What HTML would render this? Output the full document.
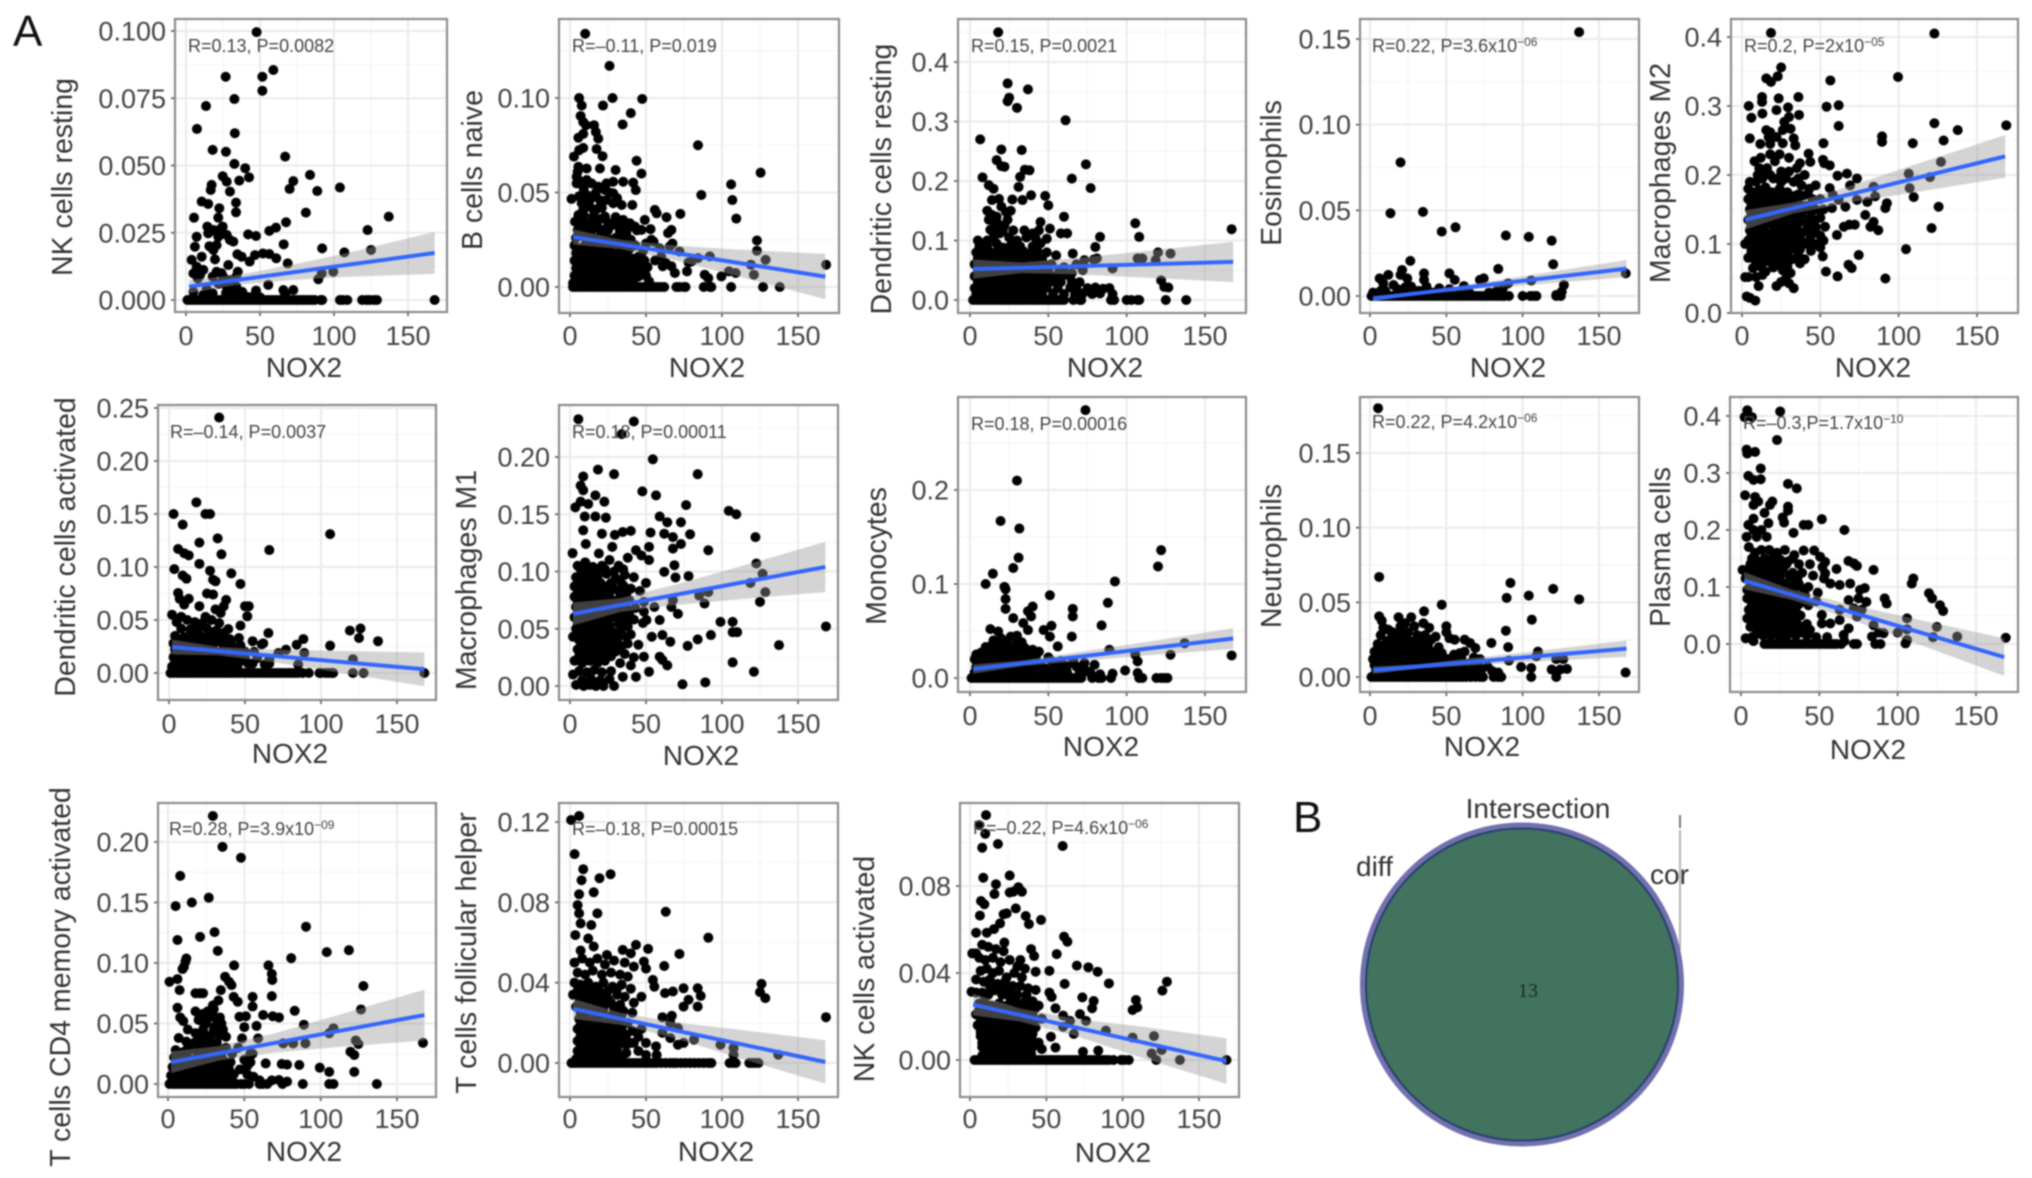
<!DOCTYPE html>
<html lang="en">
<head>
<meta charset="utf-8">
<title>NOX2 immune cell correlation scatter panels and Venn diagram</title>
<style>
html,body{margin:0;padding:0;background:#fff;width:2032px;height:1178px;overflow:hidden}
svg{display:block;filter:blur(.75px);font-family:"Liberation Sans",Arial,sans-serif}
</style>
</head>
<body>
<svg id="figure" xmlns="http://www.w3.org/2000/svg" width="2032" height="1178" viewBox="0 0 2032 1178">
<rect width="2032" height="1178" fill="#fff"/>
<text x="13" y="46" font-size="44" fill="#111">A</text>
<text x="1293" y="832" font-size="44" fill="#111">B</text>
<g>
<line x1="1680" y1="830" x2="1680" y2="950" stroke="#b5b5b5" stroke-width="2"/>
<line x1="1680" y1="815" x2="1680" y2="828" stroke="#777" stroke-width="2"/>
<circle cx="1522" cy="984.5" r="159.5" fill="#41735f" stroke="#7270ae" stroke-width="5"/>
<circle cx="1522" cy="984.5" r="156" fill="#41735f" stroke="#27406e" stroke-width="2"/>
<text x="1528" y="997" font-size="20" text-anchor="middle" fill="#1c2a25" font-family="'Liberation Serif',serif">13</text>
<text x="1538" y="818" font-size="28" text-anchor="middle" fill="#333">Intersection</text>
<text x="1356" y="876" font-size="28" fill="#333">diff</text>
<text x="1650" y="884" font-size="28" fill="#333">cor</text>
</g>
</svg>
<script>
const xTicks=[0,50,100,150];
const ciX=[2,33,70,110,168];
const fitX=[2,168];

const nkRestingPoints=[[47.7,.0996],[51.6,.083],[59,.0855],[51.6,.0778],[26.8,.083],[32.7,.0747],[13.5,.0721],[7.4,.0636],[33,.062],[18,.0558],[27,.0551],[67,.0533],[32.7,.0506],[40,.049],[24.8,.046],[42.6,.0456],[36,.0444],[27.5,.044],[17.3,.0428],[16.7,.0409],[29.7,.0403],[83.8,.0465],[72.5,.0442],[70,.0413],[88.7,.0405],[104,.0418],[10.6,.0366],[15,.0357],[33.8,.0362],[22.5,.0341],[33.8,.0326],[81,.0325],[5.4,.0306],[21.8,.0306],[137,.031],[67.6,.0289],[122.7,.026],[60.8,.0269],[56.3,.0257],[14.4,.0273],[16,.0254],[18.5,.026],[23,.0263],[24.8,.0273],[15,.0248],[21.8,.0235],[27.5,.0242],[29.7,.0223],[32,.0217],[42,.0244],[47.3,.0238],[7.2,.0235],[6,.0198],[15.8,.02],[20.7,.0204],[18.5,.0186],[66,.0207],[92,.0192],[107,.0177],[125,.0186],[34.7,.017],[37.6,.0161],[46.6,.0167],[52,.0173],[56.3,.0171],[61,.0155],[43,.0143],[10.6,.0161],[19.6,.0151],[68.7,.0136],[3.8,.0149],[7.2,.0124],[11.7,.0112],[28.6,.013],[20.7,.0105],[35,.0105],[5,.0099],[91.7,.0099],[99.5,.0105],[89.4,.0077],[25,.0087],[34,.0087],[18,.0087],[9.5,.0093],[29.7,.0074],[55.6,.0056],[27.5,.005],[34,.005],[65.8,.0037],[72.5,.0037],[47.3,.0035],[11.7,.0019],[18,.0025],[27,.0026],[36.5,.0025],[41,.0012],[67,.002],[5,.003],[14,.004],[22,.006],[31,.003],[38,.003],[8,.008],[24,.01],[44,.001],[50,.001]];
const nkRestingZero=[1,3,5,7,9,11,13,15,17,19,21,23,25,27,29,31,33,35,37,39,41,43,45,47,49,51,53,55,57,59,61,63,65,67,69,71,73,75,77,79,81,83,85,87,91,92,104,106,109,119,122,124,127,129,168];
const nkRestingFit=[.005,.0175];
const nkRestingCi=[.0025,.0018,.0028,.0045,.0078];
const nkRestingTicks=['0.000','0.025','0.050','0.075','0.100'];

const bNaivePoints=[[10,.134],[26,.117],[6,.1],[28,.1],[47.5,.0995],[21.7,.096],[7.7,.096],[40,.092],[34.6,.086],[7,.0905],[8.7,.0873],[15.8,.0856],[10.5,.0856],[17,.082],[8.7,.081],[5.5,.079],[18.6,.0785],[17.5,.073],[8.7,.0736],[6,.0724],[2.6,.069],[21.4,.0692],[43.8,.0668],[5.5,.0636],[11,.0627],[19.7,.0627],[30,.0619],[5,.061],[47,.06],[84.2,.075],[125.4,.0605],[106,.0543],[86.4,.0487],[106.8,.046],[109.4,.0362],[4.4,.0583],[7.7,.0557],[4.4,.0548],[11,.0566],[14.2,.0548],[18.6,.0531],[24,.0548],[28.4,.0557],[35,.0557],[41.6,.0552],[43.3,.0513],[23,.0513],[28.4,.0496],[1,.0466],[11,.0487],[15.3,.0478],[19.7,.046],[24,.046],[28.4,.0443],[34,.0434],[41,.0434],[7.7,.0443],[13,.0425],[18.6,.0416],[55.8,.0408],[57,.039],[72.6,.0387],[63.5,.0369],[49.2,.0355],[8.7,.0408],[5.5,.0381],[15.3,.0373],[23,.0373],[3.3,.0346],[11,.0337],[17.5,.0329],[35,.0355],[39.4,.0337],[28.4,.0329],[42.7,.032],[47,.0302],[53,.0306],[66.7,.0302],[64.5,.0285],[8.7,.0302],[21.9,.0302],[32.8,.0294],[37,.0285],[4,.026],[8,.027],[13,.028],[18,.026],[24,.025],[30,.026],[36,.024],[43,.022],[50,.023],[55,.024],[53.6,.025],[3,.022],[9,.0215],[13,.022],[17,.0225],[22,.021],[27,.022],[33,.021],[39,.02],[48,.019],[4,.018],[7,.0175],[11,.018],[15,.0185],[20,.018],[24,.0175],[28,.018],[33,.0185],[37,.017],[45,.016],[3,.014],[6,.0145],[10,.014],[14,.013],[18,.0145],[22,.0135],[26,.014],[30,.013],[34,.0145],[38,.014],[44,.0135],[49,.014],[4,.01],[8,.0105],[12,.0095],[16,.0105],[19,.01],[23,.0095],[27,.0105],[31,.01],[35,.0095],[39,.0105],[43,.01],[47,.0095],[51,.0105],[3,.006],[7,.0065],[10,.0055],[14,.0065],[17,.006],[21,.0055],[25,.0065],[29,.006],[33,.0055],[37,.0065],[41,.006],[45,.0055],[50,.006],[2,.002],[5,.004],[8,.003],[11,.005],[14,.003],[18,.004],[22,.002],[26,.004],[30,.003],[34,.004],[38,.003],[42,.004],[52,.003],[63,.0127],[66.7,.011],[69,.0074],[61,.011],[59,.0205],[65.6,.0214],[67.4,.023],[72,.0188],[80,.0135],[77,.0083],[84.2,.0153],[92,.0162],[88.6,.0065],[91,.0047],[99.6,.0056],[104.6,.0083],[109,.0074],[119,.0118],[121,.0065],[123,.0246],[123,.0192],[128.7,.0144],[168.5,.0118],[78,.013],[56,.014],[60,.016]];
const bNaiveExtra=[[6,.048],[9,.052],[13,.046],[17,.05],[21,.042],[26,.05],[31,.047],[9,.038],[12,.034],[16,.04],[20,.036],[25,.034],[30,.037],[6,.034],[14,.03],[19,.031],[25,.03],[33,.033],[38,.031],[44,.03],[5,.03],[11,.024],[16,.023],[21,.026],[27,.025],[33,.026],[40,.025],[5,.02],[12,.016],[18,.016],[26,.017],[31,.016],[41,.015],[6,.012],[16,.012],[24,.012],[29,.011],[36,.011],[41,.012],[46,.012]];
const bNaiveZero=[2,4,6,8,10,12,14,16,18,20,22,24,26,28,30,32,34,36,38,40,42,44,46,48,50,52,54,56,58,60,62,70,72,75,76,88,92,93,106,127,138];
const bNaiveFit=[.0265,.0055];
const bNaiveCi=[.004,.0025,.004,.007,.012];
const bNaiveTicks=['0.00','0.05','0.10'];

const dcRestingPoints=[[18,.45],[24,.364],[37,.354],[25,.34],[24,.334],[30,.323],[61,.302],[6.5,.27],[20,.253],[33,.252],[17,.235],[74,.228],[20,.225],[22,.224],[35,.219],[38,.218],[8,.206],[65,.204],[32,.207],[12,.193],[15,.187],[31,.19],[77,.188],[39,.176],[48,.175],[50,.159],[14,.168],[18.5,.17],[27,.169],[33.5,.168],[60,.14],[105.5,.129],[167,.119],[108,.106],[83,.106],[45,.131],[80,.089],[11,.15],[12,.135],[20,.157],[26,.15],[24,.135],[22,.125],[16,.127],[13,.118],[19,.112],[5,.1],[11,.1],[27.6,.117],[34.7,.117],[44,.117],[51,.12],[58,.112],[62,.112],[73,.067],[79,.068],[81,.07],[107,.07],[110,.07],[120,.08],[128,.078],[118.5,.067],[91,.053],[122,.033],[124,.022],[126.6,.021],[65.6,.078],[55,.075],[6,.09],[11,.091],[17,.095],[21,.088],[26,.092],[32,.09],[40,.09],[45,.095],[49,.103],[4,.08],[8,.079],[12,.082],[16,.08],[19,.078],[23,.081],[28,.08],[34,.082],[38,.078],[43,.083],[49,.08],[5,.07],[9,.069],[13,.072],[17,.07],[22,.068],[26,.071],[31,.07],[36,.069],[41,.072],[46,.07],[3,.06],[7,.061],[11,.059],[15,.06],[20,.062],[24,.058],[29,.06],[33,.061],[37,.059],[42,.06],[47,.061],[52,.06],[5,.05],[9,.051],[14,.049],[18,.05],[22,.052],[27,.049],[31,.05],[35,.051],[40,.049],[45,.05],[50,.05],[57,.051],[3,.04],[7,.041],[11,.039],[16,.04],[20,.042],[25,.039],[29,.04],[34,.041],[38,.039],[43,.04],[48,.041],[54,.04],[62,.042],[5,.03],[9,.031],[13,.029],[18,.03],[23,.032],[27,.029],[32,.03],[36,.031],[41,.029],[47,.03],[52,.031],[58,.03],[65,.031],[70,.03],[3,.02],[7,.021],[12,.019],[16,.02],[21,.022],[25,.019],[30,.02],[35,.021],[39,.019],[44,.02],[49,.021],[56,.02],[64,.021],[68,.019],[75,.02],[80,.021],[85,.019],[89,.02],[4,.01],[8,.011],[13,.009],[17,.01],[22,.012],[27,.009],[31,.01],[37,.011],[42,.009],[46,.01],[53,.011],[60,.01],[67,.009],[72,.011],[78,.01],[83,.011],[91,.01],[68,.06],[72,.05],[60,.055],[57,.045],[65,.045]];
const dcRestingExtra=[[15,.105],[18,.128],[21,.115],[14,.143],[17,.14],[23,.148],[16,.112],[25,.105],[30,.1],[36,.105],[40,.112],[42,.103],[7,.012],[11,.025],[15,.015],[19,.035],[23,.025],[28,.015],[33,.035],[38,.025],[42,.035],[9,.045],[13,.035],[17,.055],[23,.045],[28,.035],[33,.045],[39,.055],[44,.045],[5,.045],[11,.065],[19,.065],[29,.065]];
const dcRestingZero=[2,4,6,8,10,12,14,16,18,20,22,24,26,28,30,32,34,36,38,40,42,44,46,48,50,52,54,56,58,60,66,70,71,90,92,100,103,107,108,125,138];
const dcRestingFit=[.052,.064];
const dcRestingCi=[.016,.009,.014,.022,.034];
const dcRestingTicks=['0.0','0.1','0.2','0.3','0.4'];

const eosinophilPoints=[[137,.154],[20,.078],[13.4,.0483],[34.7,.0491],[47,.0376],[56,.0401],[89,.0353],[104,.0345],[119,.0323],[120,.0185],[167.5,.0132],[26.4,.0205],[84,.0158],[21,.0152],[6.3,.0103],[12,.0123],[20,.0123],[24.4,.0103],[35.4,.0132],[35.4,.0094],[52,.0132],[55.5,.0094],[74.5,.0103],[72,.0094],[90.5,.0074],[105.6,.009],[61.5,.0058],[127,.0064],[125.6,.0025],[122,.0006],[8.7,.0074],[15.4,.0064],[27,.0055],[37,.0055],[45.4,.0045],[87,.0045],[2,.002],[4,.001],[7,.003],[10,.003],[18,.004],[23,.005],[32,.003],[41,.002],[52,.004],[59,.002],[65,.002],[78,.002],[83,.003]];
const eosinophilZero=[1,3,5,7,9,11,13,15,17,19,21,23,25,27,29,31,33,35,37,39,41,43,45,47,49,51,53,55,57,59,61,63,65,67,69,71,73,75,77,79,81,83,85,87,88,91,100,105,107,109,122,125];
const eosinophilFit=[-.0015,.016];
const eosinophilCi=[.0015,.001,.0018,.003,.005];
const eosinophilTicks=['0.00','0.05','0.10','0.15'];

const macrophageM2Points=[[18.5,.406],[122.8,.405],[25,.356],[15.5,.34],[22.8,.343],[18.5,.335],[56.4,.337],[99.6,.342],[4.3,.3],[12.8,.313],[12.8,.306],[23.4,.311],[36,.313],[22,.294],[29.4,.298],[13,.289],[36.4,.287],[6,.283],[54,.299],[61.7,.301],[30,.284],[27,.277],[61.7,.271],[31,.267],[122.8,.275],[168.7,.272],[137.7,.265],[15.5,.265],[5,.253],[17,.255],[89.4,.256],[128.7,.25],[89.4,.248],[109,.246],[52,.246],[11.7,.245],[26,.246],[18,.245],[33,.253],[34,.243],[127,.219],[106.4,.202],[120,.197],[107,.181],[109.6,.168],[125.5,.154],[121,.123],[104.7,.0925],[91.5,.05],[61,.053],[53.6,.06],[74.5,.084],[70,.065],[68,.07],[51.5,.082],[92.5,.159],[91.5,.152],[87,.12],[82,.125],[84,.132],[78.7,.142],[73.4,.164],[80,.161],[85,.169],[84,.183],[73.4,.195],[67,.202],[61,.199],[69,.185],[56,.181],[58,.171],[51.7,.222],[52.5,.217],[56,.214],[42.5,.231],[43.6,.219],[37,.217],[68.5,.128],[65,.125],[60.6,.113],[72,.128],[66,.154],[61.7,.164],[57.4,.152],[2,.1],[2,.052],[4,.052],[3,.024],[5,.022],[8.5,.018],[22,.039],[10.6,.039],[30,.043],[33,.036],[8,.22],[11,.21],[16,.21],[21,.22],[25,.205],[30,.225],[35,.21],[40,.2],[47,.185],[5,.19],[9,.19],[13,.195],[18,.2],[23,.195],[28,.195],[33,.19],[38,.185],[43,.18],[50,.165],[4,.18],[7,.175],[11,.178],[15,.182],[19,.175],[24,.18],[29,.175],[34,.17],[39,.17],[45,.165],[4,.165],[8,.16],[12,.163],[16,.165],[21,.16],[26,.165],[31,.158],[36,.16],[41,.155],[47,.15],[52,.15],[5,.15],[9,.148],[13,.15],[18,.145],[23,.148],[28,.15],[33,.143],[38,.145],[44,.14],[50,.138],[4,.135],[8,.133],[12,.136],[16,.13],[21,.135],[26,.132],[31,.135],[36,.13],[42,.128],[47,.125],[53,.125],[5,.12],[9,.118],[14,.122],[18,.115],[23,.12],[28,.118],[33,.122],[38,.115],[44,.112],[50,.112],[4,.105],[7,.103],[11,.107],[15,.1],[20,.105],[25,.102],[30,.105],[35,.1],[41,.1],[47,.1],[52,.105],[6,.09],[10,.092],[14,.088],[19,.092],[24,.09],[29,.088],[34,.092],[40,.078],[4,.08],[8,.078],[12,.082],[17,.075],[22,.08],[27,.075],[32,.078],[37,.072],[7,.065],[11,.068],[15,.06],[20,.066],[26,.062],[31,.058],[9,.052],[13,.055],[28,.05],[25,.045]];
const macrophageM2Extra=[[6,.172],[10,.168],[14,.172],[17,.17],[22,.172],[26,.172],[31,.168],[36,.172],[42,.172],[6,.157],[10,.155],[14,.157],[19,.153],[24,.157],[29,.158],[34,.152],[39,.152],[43,.15],[6,.142],[10,.14],[14,.143],[19,.14],[24,.14],[29,.141],[34,.137],[40,.135],[46,.133],[6,.127],[11,.125],[15,.128],[20,.127],[25,.125],[30,.127],[35,.122],[41,.12],[47,.118],[6,.112],[12,.112],[16,.11],[21,.113],[26,.11],[32,.112],[37,.108],[43,.105],[9,.098],[13,.097],[17,.097],[22,.098],[27,.096],[32,.097],[37,.092],[44,.09],[50,.095],[7,.085],[15,.083],[20,.084],[25,.082],[30,.08],[36,.082],[9,.072],[13,.072],[19,.072],[24,.07],[29,.068],[10,.2],[15,.205],[20,.195],[25,.19],[30,.205],[36,.195],[12,.225],[18,.23],[24,.23],[18,.262],[22,.255],[26,.265]];
const macrophageM2Zero=[];
const macrophageM2Fit=[.135,.227];
const macrophageM2Ci=[.014,.008,.012,.02,.031];
const macrophageM2Ticks=['0.0','0.1','0.2','0.3','0.4'];

const dcActivatedPoints=[[33,.241],[18,.161],[3,.15],[24,.15],[27,.15],[9,.14],[32,.127],[106,.131],[20,.123],[34.5,.112],[66,.116],[6,.117],[10,.113],[13,.111],[20,.103],[3.5,.098],[27,.0965],[41,.094],[9,.092],[11.5,.089],[29,.088],[30.6,.0865],[47,.084],[25,.075],[29,.074],[6,.0755],[7,.07],[13,.07],[37.6,.069],[50,.063],[52.5,.063],[10,.0645],[20,.063],[30.6,.06],[2,.055],[36,.063],[34,.0566],[51.5,.0535],[8,.053],[24,.053],[47,.0447],[39,.0415],[119,.04],[126,.042],[125,.033],[137.5,.03],[65.4,.0377],[88.4,.032],[84,.0267],[106,.0258],[61,.027],[55,.03],[62,.028],[72,.0189],[77,.022],[121,.013],[89,.019],[5,.048],[12,.05],[17,.048],[22,.047],[28,.05],[33,.047],[8,.042],[14,.041],[19,.04],[25,.042],[31,.04],[36,.038],[4,.035],[10,.034],[16,.035],[22,.034],[27,.036],[33,.033],[40,.032],[46,.033],[3,.028],[7,.029],[12,.027],[18,.028],[23,.029],[29,.027],[35,.028],[41,.027],[47,.026],[4,.022],[9,.023],[14,.021],[19,.022],[25,.023],[30,.021],[36,.022],[43,.021],[50,.02],[56,.02],[3,.015],[7,.016],[12,.014],[17,.015],[22,.016],[27,.014],[33,.015],[38,.016],[44,.014],[50,.015],[58,.014],[66,.013],[2,.006],[5,.01],[10,.009],[15,.01],[20,.009],[25,.01],[30,.009],[35,.01],[40,.009],[46,.01],[52,.009],[63,.008],[66,.009],[85,.008],[5,.004],[11,.004],[18,.005],[24,.004],[31,.005],[38,.004],[45,.005]];
const dcActivatedExtra=[[6,.031],[13,.031],[19,.031],[25,.03],[31,.031],[38,.03],[6,.019],[11,.018],[16,.019],[22,.019],[27,.018],[33,.019],[40,.018],[47,.018],[4,.012],[9,.012],[14,.012],[19,.013],[24,.012],[29,.012],[35,.013],[42,.012],[55,.009],[8,.006],[14,.006],[21,.006],[28,.006],[34,.006],[42,.006]];
const dcActivatedZero=[1,3,5,7,9,11,13,15,17,19,21,23,25,27,29,31,33,35,37,39,41,43,45,47,49,51,53,55,57,59,61,63,65,67,69,71,73,75,77,79,81,83,85,88,92,99,100,103,105,107,108,121,128,168];
const dcActivatedFit=[.0245,.0035];
const dcActivatedCi=[.007,.004,.006,.01,.016];
const dcActivatedTicks=['0.00','0.05','0.10','0.15','0.20','0.25'];

const macrophageM1Points=[[5.5,.233],[42,.231],[34,.22],[54.5,.198],[18.4,.189],[29,.185],[84,.185],[8.7,.183],[7,.175],[8.7,.171],[47.6,.17],[56.6,.1665],[16.7,.1665],[22.6,.161],[7,.161],[12,.159],[3.5,.156],[76.4,.158],[104.5,.153],[109.4,.15],[59,.148],[64,.143],[73,.143],[9.7,.148],[16.7,.148],[23.6,.147],[8.7,.136],[34.7,.1345],[40,.1355],[53,.134],[62,.133],[79,.1325],[122,.13],[21,.133],[29.5,.132],[67.7,.13],[73,.124],[52,.1215],[91,.1186],[10.4,.124],[1.7,.116],[67.7,.12],[43.4,.1186],[47,.114],[52,.11],[19,.1157],[27.8,.1215],[68.7,.1055],[122.6,.107],[62,.0997],[126.7,.098],[69.4,.0948],[78,.096],[118.7,.09],[128.5,.082],[91,.082],[85,.079],[88.5,.072],[125,.0735],[67.7,.075],[66.7,.069],[71,.063],[48.6,.0735],[55.5,.069],[48.6,.065],[99,.056],[107,.056],[168.4,.052],[107,.047],[110,.047],[92.7,.0445],[84,.0407],[77.4,.035],[137.5,.0357],[107,.0206],[121,.0125],[89,.0032],[74,.0015],[64,.018],[59,.0256],[60.8,.0227],[66,.0387],[60.8,.0445],[53.8,.043],[50.3,.0576],[59,.0576],[52,.0125],[43.4,.008],[48.6,.0256],[34.7,.008],[29,0],[5,.105],[10,.108],[15,.104],[21,.105],[26,.11],[32,.105],[38,.112],[4,.095],[8,.098],[13,.096],[18,.095],[24,.098],[30,.094],[36,.097],[42,.095],[50,.09],[3,.087],[7,.088],[11,.086],[15,.088],[19,.085],[24,.087],[29,.085],[35,.088],[40,.085],[46,.083],[3,.078],[6,.079],[10,.077],[14,.079],[18,.076],[22,.078],[27,.076],[33,.078],[39,.075],[4,.069],[8,.07],[12,.068],[16,.07],[21,.067],[26,.069],[31,.067],[37,.068],[43,.068],[3,.06],[7,.058],[11,.06],[15,.057],[20,.059],[25,.057],[30,.06],[36,.057],[42,.058],[48,.055],[4,.05],[8,.048],[13,.05],[18,.048],[23,.05],[28,.047],[34,.05],[40,.045],[2,.043],[6,.04],[11,.041],[16,.039],[21,.041],[26,.039],[31,.041],[38,.037],[45,.036],[5,.032],[9,.03],[14,.032],[19,.03],[24,.032],[30,.03],[36,.028],[42,.025],[3,.022],[8,.02],[13,.022],[18,.02],[23,.022],[33,.02],[40,.018],[6,.013],[11,.012],[16,.014],[21,.012],[27,.013],[2,.01],[8,.005],[14,.006],[20,.005],[26,.006],[4,.001],[9,0],[13,.001],[17,0],[22,0]];
const macrophageM1Extra=[[5,.083],[9,.083],[13,.082],[17,.082],[21,.083],[26,.082],[32,.083],[37,.08],[5,.073],[10,.073],[14,.074],[18,.073],[23,.073],[29,.072],[35,.072],[5,.064],[9,.064],[13,.064],[18,.063],[23,.063],[28,.063],[33,.063],[39,.062],[5,.054],[10,.054],[15,.054],[21,.054],[26,.053],[32,.054],[38,.052],[6,.045],[11,.045],[16,.044],[21,.045],[26,.045],[31,.045],[37,.043],[8,.035],[12,.036],[17,.035],[22,.036],[28,.035],[34,.035],[6,.026],[11,.026],[16,.026],[21,.026],[27,.026],[5,.092],[10,.092],[15,.092],[20,.09],[27,.09],[33,.092],[7,.102],[12,.102],[18,.1],[23,.102],[29,.1],[35,.102]];
const macrophageM1Zero=[];
const macrophageM1Fit=[.063,.104];
const macrophageM1Ci=[.01,.006,.009,.014,.022];
const macrophageM1Ticks=['0.00','0.05','0.10','0.15','0.20'];

const monocytePoints=[[73.7,.285],[30,.21],[19.5,.167],[31.5,.159],[31,.128],[122,.136],[120,.1186],[27.6,.117],[14.6,.111],[10,.1],[22,.097],[22.7,.0945],[92.5,.1027],[51,.088],[88,.08],[22.7,.084],[22.7,.0736],[40,.076],[37,.071],[39,.0655],[27.6,.0637],[65.6,.0736],[65.6,.0655],[65,.044],[84,.056],[52,.0556],[34,.0584],[47,.051],[37,.051],[51,.044],[56,.0336],[13,.052],[18,.0495],[26,.044],[137,.037],[89,.03],[128,.0248],[105.5,.0248],[107,.0177],[167,.024],[107,.0053],[99,.008],[91,.0046],[73,.016],[79.5,.014],[70,.005],[75,.007],[60,.012],[53,.009],[66,.018],[15,.04],[20,.042],[30,.045],[33,.038],[10,.033],[14,.035],[19,.033],[24,.036],[29,.034],[35,.032],[40,.03],[44,.028],[4,.025],[7,.027],[11,.026],[16,.027],[21,.025],[26,.027],[31,.026],[37,.024],[42,.022],[50,.022],[3,.02],[6,.018],[10,.02],[14,.018],[18,.02],[23,.018],[28,.02],[33,.018],[39,.017],[45,.015],[52,.018],[58,.018],[4,.012],[8,.012],[12,.013],[16,.011],[21,.013],[26,.011],[31,.013],[36,.011],[42,.012],[48,.01],[55,.012],[62,.013],[68,.012],[3,.006],[7,.006],[11,.007],[15,.005],[20,.007],[25,.005],[30,.007],[35,.005],[40,.006],[45,.005],[50,.007],[56,.005],[62,.006],[70,.009],[77,.005],[83,.004],[3,.002],[9,.003],[17,.002],[23,.003],[33,.002],[43,.003],[53,.002]];
const monocyteExtra=[[16,.022],[20,.028],[24,.022],[29,.023],[34,.025],[13,.03],[17,.03],[25,.032],[30,.04],[21,.038],[6,.01],[10,.01],[14,.008],[18,.009],[23,.009],[28,.009],[33,.009],[38,.009],[43,.008],[47,.008],[5,.015],[9,.016],[19,.015],[25,.015],[36,.015],[41,.015]];
const monocyteZero=[1,3,5,7,9,11,13,15,17,19,21,23,25,27,29,31,33,35,37,39,41,43,45,47,49,51,53,55,57,59,61,63,65,67,69,71,78,82,84,90,108,110,119,122,124,126];
const monocyteFit=[.0095,.042];
const monocyteCi=[.005,.003,.005,.007,.011];
const monocyteTicks=['0.0','0.1','0.2'];

const neutrophilPoints=[[5.3,.18],[6,.067],[92,.063],[120,.059],[89.5,.053],[104,.0545],[137,.052],[47,.0484],[106,.0384],[6,.0406],[7.7,.0377],[89,.031],[79.5,.0228],[90.5,.02],[110,.017],[167.4,.003],[109,.0138],[91,.011],[99,.0067],[105.6,.006],[105.6,0],[119,.005],[122,0],[122,.012],[126.6,.012],[124.6,.005],[129,.0054],[35.4,.044],[27,.04],[18.7,.04],[8.7,.033],[12,.0317],[20,.034],[35,.036],[38.8,.033],[50,.034],[50,.03],[55.5,.025],[40,.025],[62,.025],[65.5,.0228],[69,.0194],[58.8,.016],[23,.036],[29,.034],[15,.03],[25,.03],[31,.028],[7,.028],[18,.027],[36,.028],[43,.027],[52,.026],[5,.022],[11,.024],[15,.022],[21,.024],[26,.022],[32,.023],[38,.021],[45,.02],[3,.017],[8,.018],[13,.018],[18,.017],[23,.019],[28,.017],[34,.018],[40,.017],[47,.016],[55,.015],[62,.017],[2,.012],[6,.013],[11,.012],[15,.013],[20,.012],[25,.013],[30,.012],[36,.013],[42,.012],[48,.013],[54,.012],[60,.012],[68,.013],[72,.012],[3,.008],[8,.008],[12,.009],[17,.008],[22,.009],[27,.008],[32,.009],[37,.008],[42,.009],[47,.008],[53,.009],[59,.008],[65,.009],[71,.008],[77,.007],[4,.004],[9,.004],[14,.004],[19,.005],[24,.004],[29,.005],[34,.004],[39,.005],[44,.004],[49,.005],[55,.004],[61,.005],[67,.004],[73,.005],[80,.004],[84,.003]];
const neutrophilExtra=[[17,.022],[24,.027],[20,.029],[29,.024],[35,.023],[9,.021],[14,.026],[20,.018],[26,.018],[31,.018],[37,.017],[43,.016],[6,.016],[11,.015],[16,.015],[22,.015],[27,.015],[33,.015],[39,.014],[45,.014],[51,.012],[5,.01],[10,.01],[14,.01],[19,.01],[24,.01],[29,.01],[35,.01],[40,.011],[45,.011],[51,.01],[57,.01],[6,.005],[11,.006],[16,.006],[21,.006],[26,.006],[31,.006],[36,.006],[41,.006],[47,.006],[52,.006],[58,.006]];
const neutrophilZero=[1,3,5,7,9,11,13,15,17,19,21,23,25,27,29,31,33,35,37,39,41,43,45,47,49,51,53,55,57,59,61,63,66,69,72,74,81,84,86];
const neutrophilFit=[.0045,.019];
const neutrophilCi=[.0025,.0015,.0025,.0035,.0055];
const neutrophilTicks=['0.00','0.05','0.10','0.15'];

const plasmaPoints=[[4,.41],[2.3,.398],[7,.398],[25,.408],[23,.358],[3.6,.341],[9,.337],[4,.334],[12.6,.308],[4.7,.295],[8,.288],[12.6,.289],[30,.281],[35.6,.273],[2.6,.261],[9,.258],[20,.25],[11,.25],[8,.244],[18.5,.244],[30,.241],[30,.234],[15,.23],[26.6,.222],[51.6,.219],[8,.22],[27.5,.213],[40,.209],[43,.209],[66,.2],[17.5,.212],[4.7,.209],[33.5,.195],[8,.2],[13,.2],[3.6,.188],[16.4,.188],[10,.188],[34,.156],[40,.164],[46.7,.164],[50.5,.153],[53.7,.144],[61,.1316],[68.6,.1456],[72,.1415],[74,.137],[84.6,.13],[110,.115],[109,.106],[120,.089],[122,.08],[127,.068],[129,.058],[91.7,.08],[93,.071],[79,.098],[76,.095],[69.7,.106],[63,.1035],[57,.106],[53.7,.124],[75,.08],[80,.074],[68.7,.077],[72,.0626],[77,.06],[74,.048],[63,.06],[51.6,.051],[63,.042],[51.6,.036],[57,.036],[68.7,.0275],[65.5,.016],[84.6,.033],[106,.045],[125,.03],[106,.0257],[100,.02],[91,.019],[83.6,.013],[88,.02],[138,.013],[122.6,.012],[169,.011],[106,.007],[105,.001],[89,0],[85.7,0],[74,0],[72,0],[59,0],[66,.005],[1,.13],[5,.17],[9,.16],[13,.165],[18,.165],[23,.16],[28,.165],[33,.15],[7,.15],[11,.145],[15,.15],[20,.15],[25,.148],[30,.145],[37,.14],[44,.14],[52,.135],[4,.13],[8,.13],[12,.132],[17,.13],[22,.128],[27,.132],[33,.125],[39,.125],[46,.12],[53,.115],[3,.115],[7,.11],[11,.115],[16,.11],[21,.112],[26,.108],[31,.11],[37,.105],[43,.1],[49,.09],[4,.095],[8,.095],[13,.092],[18,.095],[23,.09],[29,.09],[35,.085],[41,.085],[48,.075],[4,.08],[9,.075],[14,.078],[19,.072],[25,.075],[31,.072],[37,.07],[43,.068],[5,.06],[10,.06],[15,.058],[21,.06],[26,.055],[32,.055],[38,.05],[4,.045],[8,.04],[13,.045],[18,.04],[23,.044],[28,.04],[33,.042],[42,.035],[6,.03],[11,.028],[16,.03],[21,.027],[26,.03],[31,.028],[37,.025],[44,.025],[3,.01],[7,.012],[14,.015],[19,.015],[24,.015],[29,.013],[35,.015],[42,.015],[48,.012],[55,.012],[8,.005]];
const plasmaExtra=[[6,.14],[10,.138],[14,.14],[19,.14],[24,.138],[29,.14],[6,.122],[10,.122],[15,.122],[20,.12],[25,.12],[31,.12],[36,.115],[6,.103],[10,.103],[14,.103],[19,.103],[24,.1],[29,.1],[34,.098],[40,.095],[7,.085],[11,.085],[16,.085],[21,.083],[27,.082],[33,.08],[39,.075],[7,.068],[12,.067],[17,.065],[23,.067],[29,.063],[35,.062],[7,.052],[12,.052],[17,.05],[22,.052],[28,.048],[34,.05],[10,.035],[15,.036],[20,.034],[25,.036],[30,.035],[36,.035],[10,.018],[16,.022],[22,.02],[27,.021],[33,.021],[39,.02]];
const plasmaZero=[15,17,19,21,23,25,27,29,31,33,35,37,39,41,43,45,47,49,51,53,55,57,61,64];
const plasmaFit=[.111,-.023];
const plasmaCi=[.015,.009,.013,.021,.033];
const plasmaTicks=['0.0','0.1','0.2','0.3','0.4'];

const tcd4Points=[[29.4,.2215],[35.7,.196],[47.8,.187],[8,.172],[5,.147],[15.6,.15],[26.7,.154],[30.5,.1255],[90.4,.13],[6.2,.119],[21,.1216],[32.6,.11],[104,.109],[118.5,.1106],[80.7,.104],[43.3,.098],[65.8,.098],[12,.1037],[11.4,.101],[10.4,.0968],[9.5,.095],[1,.0845],[6.2,.0867],[68,.091],[68.3,.086],[128,.081],[37.4,.0886],[40,.0845],[41.6,.0817],[7.6,.0776],[21,.075],[18,.075],[23,.075],[34.6,.0776],[43,.072],[45.7,.068],[55.4,.072],[68,.0726],[33,.069],[29.4,.065],[6.2,.063],[83,.0605],[126.4,.0616],[55.4,.064],[46.8,.0556],[51,.056],[62.3,.057],[68.6,.056],[72.7,.055],[89,.049],[50,.047],[58,.048],[108.4,.046],[105.6,.042],[167,.034],[123,.036],[124.7,.033],[119.5,.0267],[122,.024],[99.4,.0135],[105.6,.01],[122,.01],[105.6,0],[108.4,0],[136.8,0],[88.3,0],[86,.0157],[74.5,.0165],[78,.016],[64,.017],[55.4,.025],[90,.0336],[75.5,.0336],[82,.0336],[59,.0377],[38,.039],[48.5,.0377],[78,.002],[72.7,.0033],[68,.003],[8,.055],[10,.052],[18,.06],[23,.058],[26,.06],[30,.062],[34,.055],[20,.053],[25,.05],[31,.048],[36,.045],[13,.045],[18,.042],[23,.045],[28,.04],[34,.04],[7,.038],[12,.035],[17,.034],[22,.036],[27,.033],[32,.034],[38,.03],[46,.03],[50,.02],[52,.015],[54,.025],[5,.028],[9,.026],[14,.028],[19,.027],[24,.026],[30,.028],[35,.025],[42,.025],[4,.022],[8,.02],[12,.022],[16,.02],[21,.022],[26,.02],[31,.022],[36,.02],[41,.018],[47,.012],[3,.014],[7,.015],[11,.013],[15,.015],[20,.013],[25,.015],[30,.013],[35,.014],[40,.012],[2,.007],[6,.008],[10,.007],[14,.009],[18,.007],[23,.008],[28,.007],[33,.008],[38,.007],[43,.008],[5,.003],[9,.004],[13,.003],[17,.004],[22,.003],[27,.004],[32,.003],[37,.004],[42,.003],[56,.006],[60,.003]];
const tcd4Extra=[[5,.011],[9,.011],[13,.01],[17,.011],[21,.011],[26,.011],[31,.01],[36,.01],[41,.008],[6,.018],[10,.018],[14,.018],[18,.017],[23,.018],[28,.017],[33,.017],[38,.016],[12,.028],[16,.03],[21,.031],[26,.03],[33,.029],[20,.04],[25,.04],[30,.045],[35,.05],[22,.052],[27,.055],[31,.055],[50,.012],[52,.008],[54,.018]];
const tcd4Zero=[1,3,5,7,9,11,13,15,17,19,21,23,25,27,29,31,33,35,37,39,41,43,45,48,50,53,60,62,65,75];
const tcd4Fit=[.018,.057];
const tcd4Ci=[.009,.006,.008,.013,.021];
const tcd4Ticks=['0.00','0.05','0.10','0.15','0.20'];

const tfhPoints=[[.7,.121],[6,.123],[3,.104],[8.7,.0965],[26.7,.094],[7.6,.091],[19.4,.092],[6,.084],[15.6,.085],[5,.0786],[6,.0745],[18,.0745],[63,.0753],[7,.0695],[14,.0687],[91,.0624],[3.5,.0637],[12,.062],[15.6,.058],[43.4,.0588],[51.4,.0568],[72,.0543],[7,.056],[34.7,.0563],[40,.0546],[24.3,.0538],[62,.0483],[48.6,.0505],[50,.047],[126,.0394],[74.7,.0372],[84,.0372],[54.5,.0414],[55.5,.038],[125,.0353],[128.5,.0323],[86,.0334],[67.7,.0356],[62.5,.0348],[78,.0315],[74.7,.0281],[84,.0281],[168.4,.0228],[67,.0235],[60.8,.0228],[47,.033],[66,.02],[60.8,.015],[71,.0174],[66,.0124],[81.6,.0116],[71,.0091],[74.7,.01],[99,.0091],[107.6,.0075],[107.6,.0041],[137,.0041],[56.6,.0083],[45,.013],[50,.01],[3,.05],[8,.052],[13,.05],[18,.052],[23,.049],[29,.051],[36,.05],[42,.048],[5,.045],[10,.044],[15,.046],[21,.044],[27,.045],[33,.044],[38,.043],[3,.04],[7,.039],[12,.04],[17,.038],[22,.04],[28,.038],[34,.039],[40,.037],[2,.034],[6,.033],[10,.035],[15,.033],[20,.034],[25,.032],[31,.034],[36,.033],[42,.03],[4,.028],[8,.028],[13,.029],[18,.027],[23,.029],[29,.027],[35,.026],[41,.025],[6,.022],[10,.023],[15,.021],[20,.023],[26,.021],[32,.022],[38,.02],[5,.017],[9,.016],[14,.017],[19,.016],[24,.017],[29,.016],[34,.017],[41,.016],[47,.017],[5,.011],[9,.012],[13,.011],[18,.012],[23,.011],[28,.012],[34,.011],[40,.01],[45,.006],[5,.006],[8,.006],[12,.007],[16,.006],[21,.007],[26,.006],[31,.007],[37,.005],[50,.004],[57,.004],[4,.002],[8,.003],[14,.002],[20,.003],[27,.002],[34,.003]];
const tfhExtra=[[5,.036],[9,.037],[14,.037],[19,.036],[25,.036],[31,.037],[6,.03],[11,.031],[16,.031],[21,.031],[27,.03],[33,.029],[7,.025],[11,.026],[16,.025],[22,.026],[28,.024],[34,.024],[7,.019],[12,.02],[18,.019],[23,.019],[29,.02],[35,.02],[7,.014],[11,.014],[16,.014],[21,.014],[26,.014],[32,.014],[37,.014],[7,.009],[11,.009],[15,.009],[20,.009],[25,.009],[31,.009],[37,.009],[42,.01],[7,.003],[11,.003],[17,.003],[24,.003],[30,.003]];
const tfhZero=[1,3,5,7,9,11,13,15,17,19,21,23,25,27,29,31,33,35,37,39,41,43,45,47,49,51,53,55,57,60,63,66,68,70,73,76,79,82,85,88,91,93,105,107,109,118,120,122,124];
const tfhFit=[.027,.0005];
const tfhCi=[.005,.003,.004,.007,.0108];
const tfhTicks=['0.00','0.04','0.08','0.12'];

const nkActivatedPoints=[[10.5,.1126],[6,.108],[10,.104],[8,.0976],[18.3,.0993],[60.7,.0984],[8.7,.0838],[26,.0848],[17,.0808],[16,.0763],[26,.077],[31.7,.0794],[28.4,.0774],[34,.0774],[7.2,.0731],[9.4,.0716],[30,.0697],[6.5,.0664],[22,.067],[24,.0674],[36.5,.0662],[46.5,.0644],[19.7,.0628],[38.6,.0625],[15.7,.0602],[11,.0585],[4,.0585],[61.6,.0567],[63.8,.0544],[22.5,.054],[40,.051],[1.5,.049],[4,.049],[56.8,.0487],[42,.0478],[33,.046],[70,.0434],[77.5,.0426],[83.6,.0406],[52,.041],[43,.0406],[62,.035],[91,.0352],[129,.036],[126,.0319],[1,.0314],[43,.0322],[52,.031],[53.5,.029],[73.6,.0288],[81,.0271],[108.7,.0276],[80,.0238],[109.6,.0242],[106.5,.023],[56,.0238],[72,.0211],[61,.0204],[76,.018],[65.5,.018],[61,.0153],[89,.0135],[68,.012],[120.5,.011],[106.5,.0103],[53,.0107],[56,.0057],[74,.0038],[84,.0043],[125.5,.0046],[119,.003],[122,0],[137.5,0],[168,0],[8,.053],[12,.052],[17,.051],[22,.05],[26,.046],[6,.047],[10,.046],[15,.047],[20,.045],[31,.043],[36,.042],[7,.041],[11,.042],[15,.04],[19,.041],[24,.038],[29,.04],[34,.038],[4,.037],[9,.036],[13,.037],[18,.035],[23,.036],[28,.034],[33,.034],[38,.033],[4,.031],[8,.031],[12,.03],[16,.032],[21,.03],[26,.032],[31,.03],[37,.03],[41,.027],[45,.025],[6,.026],[10,.026],[14,.025],[19,.026],[24,.025],[29,.026],[34,.025],[39,.024],[43,.024],[4,.021],[8,.02],[12,.021],[17,.02],[22,.021],[27,.02],[32,.02],[37,.02],[47,.019],[5,.016],[9,.015],[13,.016],[18,.015],[23,.016],[28,.015],[33,.016],[38,.015],[43,.015],[7,.011],[10,.011],[14,.01],[19,.011],[24,.01],[29,.011],[34,.01],[39,.01],[45,.008],[8,.006],[12,.006],[16,.005],[21,.006],[26,.005],[31,.006],[36,.005],[41,.006],[47,.005],[8,.002],[14,.002],[20,.003],[28,.002],[36,.002]];
const nkActivatedExtra=[[13,.034],[9,.03],[14,.035],[21,.033],[26,.029],[31,.026],[36,.027],[6,.023],[11,.023],[15,.022],[20,.023],[25,.022],[30,.023],[35,.022],[41,.021],[7,.018],[11,.018],[16,.018],[21,.017],[26,.018],[31,.017],[36,.017],[42,.018],[7,.013],[11,.013],[16,.013],[21,.013],[26,.013],[31,.013],[36,.013],[41,.012],[8,.008],[12,.008],[17,.008],[22,.008],[27,.008],[33,.008],[38,.008],[43,.008],[12,.003],[18,.003],[24,.003],[32,.003],[40,.003]];
const nkActivatedZero=[3,5,7,9,11,13,15,17,19,21,23,25,27,29,31,33,35,37,39,41,43,45,47,49,51,53,55,57,59,61,63,65,67,69,71,73,75,77,79,81,83,85,87,89,91,94,99,101,104];
const nkActivatedFit=[.0255,-.0005];
const nkActivatedCi=[.005,.003,.004,.007,.0105];
const nkActivatedTicks=['0.00','0.04','0.08'];

const panels=[
{key:'nk-cells-resting',title:'NK cells resting',note:'R=0.13, P=0.0082',sup:'',points:nkRestingPoints,zero:nkRestingZero,fit:nkRestingFit,ci:nkRestingCi,ticks:nkRestingTicks,box:[175,19,447,312],px:[186,408],py:[300,31,.1],noteAt:[188,52],xLabelY:345,xTitleAt:[304,377],yTitleAt:[72,177]},
{key:'b-cells-naive',title:'B cells naive',note:'R=–0.11, P=0.019',sup:'',points:bNaivePoints.concat(bNaiveExtra),zero:bNaiveZero,fit:bNaiveFit,ci:bNaiveCi,ticks:bNaiveTicks,box:[559,19,839,313],px:[570,798],py:[287,98,.1],noteAt:[572,52],xLabelY:345,xTitleAt:[707,377],yTitleAt:[482,170]},
{key:'dendritic-cells-resting',title:'Dendritic cells resting',note:'R=0.15, P=0.0021',sup:'',points:dcRestingPoints.concat(dcRestingExtra),zero:dcRestingZero,fit:dcRestingFit,ci:dcRestingCi,ticks:dcRestingTicks,box:[958,19,1246,313],px:[970,1205],py:[300,62,.4],noteAt:[971,52],xLabelY:345,xTitleAt:[1105,377],yTitleAt:[891,179]},
{key:'eosinophils',title:'Eosinophils',note:'R=0.22, P=3.6x10',sup:'−06',points:eosinophilPoints,zero:eosinophilZero,fit:eosinophilFit,ci:eosinophilCi,ticks:eosinophilTicks,box:[1360,19,1639,313],px:[1370,1599],py:[296,39,.15],noteAt:[1372,52],xLabelY:345,xTitleAt:[1508,377],yTitleAt:[1281,173]},
{key:'macrophages-m2',title:'Macrophages M2',note:'R=0.2, P=2x10',sup:'−05',points:macrophageM2Points.concat(macrophageM2Extra),zero:macrophageM2Zero,fit:macrophageM2Fit,ci:macrophageM2Ci,ticks:macrophageM2Ticks,box:[1731,19,2018,313],px:[1742,1977],py:[313,37,.4],noteAt:[1744,52],xLabelY:345,xTitleAt:[1873,377],yTitleAt:[1670,173]},
{key:'dendritic-cells-activated',title:'Dendritic cells activated',note:'R=–0.14, P=0.0037',sup:'',points:dcActivatedPoints.concat(dcActivatedExtra),zero:dcActivatedZero,fit:dcActivatedFit,ci:dcActivatedCi,ticks:dcActivatedTicks,box:[158,405,436,700],px:[169,397],py:[673,408,.25],noteAt:[170,438],xLabelY:733,xTitleAt:[290,763],yTitleAt:[75,547]},
{key:'macrophages-m1',title:'Macrophages M1',note:'R=0.18, P=0.00011',sup:'',points:macrophageM1Points.concat(macrophageM1Extra),zero:macrophageM1Zero,fit:macrophageM1Fit,ci:macrophageM1Ci,ticks:macrophageM1Ticks,box:[559,405,838,700],px:[570,798],py:[686,457,.2],noteAt:[572,438],xLabelY:733,xTitleAt:[701,765],yTitleAt:[476,580]},
{key:'monocytes',title:'Monocytes',note:'R=0.18, P=0.00016',sup:'',points:monocytePoints.concat(monocyteExtra),zero:monocyteZero,fit:monocyteFit,ci:monocyteCi,ticks:monocyteTicks,box:[958,397,1246,692],px:[970,1205],py:[678,490,.2],noteAt:[971,430],xLabelY:725,xTitleAt:[1101,756],yTitleAt:[886,556]},
{key:'neutrophils',title:'Neutrophils',note:'R=0.22, P=4.2x10',sup:'−06',points:neutrophilPoints.concat(neutrophilExtra),zero:neutrophilZero,fit:neutrophilFit,ci:neutrophilCi,ticks:neutrophilTicks,box:[1360,397,1639,692],px:[1370,1599],py:[677,453,.15],noteAt:[1372,428],xLabelY:725,xTitleAt:[1482,756],yTitleAt:[1281,556]},
{key:'plasma-cells',title:'Plasma cells',note:'R=–0.3,P=1.7x10',sup:'−10',points:plasmaPoints.concat(plasmaExtra),zero:plasmaZero,fit:plasmaFit,ci:plasmaCi,ticks:plasmaTicks,box:[1730,397,2018,692],px:[1741,1976],py:[644,416,.4],noteAt:[1743,429],xLabelY:725,xTitleAt:[1868,759],yTitleAt:[1670,547]},
{key:'t-cells-cd4-memory-activated',title:'T cells CD4 memory activated',note:'R=0.28, P=3.9x10',sup:'−09',points:tcd4Points.concat(tcd4Extra),zero:tcd4Zero,fit:tcd4Fit,ci:tcd4Ci,ticks:tcd4Ticks,box:[158,803,436,1097],px:[168,397],py:[1084,842,.2],noteAt:[169,835],xLabelY:1128,xTitleAt:[304,1161],yTitleAt:[70,977]},
{key:'t-cells-follicular-helper',title:'T cells follicular helper',note:'R=–0.18, P=0.00015',sup:'',points:tfhPoints.concat(tfhExtra),zero:tfhZero,fit:tfhFit,ci:tfhCi,ticks:tfhTicks,box:[559,803,838,1097],px:[570,798],py:[1063,822,.12],noteAt:[572,835],xLabelY:1128,xTitleAt:[716,1161],yTitleAt:[476,953]},
{key:'nk-cells-activated',title:'NK cells activated',note:'R=–0.22, P=4.6x10',sup:'−06',points:nkActivatedPoints.concat(nkActivatedExtra),zero:nkActivatedZero,fit:nkActivatedFit,ci:nkActivatedCi,ticks:nkActivatedTicks,box:[960,803,1239,1097],px:[970,1199],py:[1060,886,.08],noteAt:[973,834],xLabelY:1128,xTitleAt:[1113,1162],yTitleAt:[874,969]}
];

const NS='http://www.w3.org/2000/svg';
const figure=document.getElementById('figure');
function make(tag,parent,props){
  const node=document.createElementNS(NS,tag);
  for(const k in props){node.setAttribute(k,props[k]);}
  parent.appendChild(node);
  return node;
}
panels.forEach(function(p){
  const sx=function(v){return p.px[0]+v*(p.px[1]-p.px[0])/150;};
  const sy=function(v){return p.py[0]+v*(p.py[1]-p.py[0])/p.py[2];};
  const left=p.box[0],top=p.box[1],right=p.box[2],bottom=p.box[3];
  const g=make('g',figure,{});
  
  

  const yVals=p.ticks.map(Number);
  const ySpacing=yVals[1]-yVals[0];
  const yMinor=[];
  for(let i=-1;i<yVals.length;i++){yMinor.push((i<0?yVals[0]-ySpacing/2:yVals[i]+ySpacing/2));}
  yMinor.forEach(function(v){
    const py=sy(v);
    if(py>top&&py<bottom){
      const line=make('line',g,{x1:left,x2:right,y1:py,y2:py,stroke:'#f4f4f4','stroke-width':1});
      
      
    }
  });
  [25,75,125].forEach(function(v){
    const line=make('line',g,{x1:sx(v),x2:sx(v),y1:top,y2:bottom,stroke:'#f4f4f4','stroke-width':1});
    
    
  });
  yVals.forEach(function(v,i){
    const py=sy(v);
    const line=make('line',g,{x1:left,x2:right,y1:py,y2:py,stroke:'#ebebeb','stroke-width':2});
    
    
    const tick=make('line',g,{x1:left-4,x2:left,y1:py,y2:py,stroke:'#555','stroke-width':1.6});
    
    
    const label=make('text',g,{x:left-9,y:py+9.5,'font-size':27,'text-anchor':'end',fill:'#444'});
    
    
    label.textContent=p.ticks[i];
  });
  xTicks.forEach(function(v){
    const line=make('line',g,{x1:sx(v),x2:sx(v),y1:top,y2:bottom,stroke:'#ebebeb','stroke-width':2});
    
    
    const tick=make('line',g,{x1:sx(v),x2:sx(v),y1:bottom,y2:bottom+4,stroke:'#555','stroke-width':1.6});
    
    
    const label=make('text',g,{x:sx(v),y:p.xLabelY,'font-size':27,'text-anchor':'middle',fill:'#444'});
    
    
    label.textContent=String(v);
  });

  p.points.forEach(function(pt){
    const dot=make('circle',g,{cx:sx(pt[0]),cy:sy(pt[1]),r:5,fill:'#000'});
    
    
  });
  p.zero.forEach(function(x){
    const dot=make('circle',g,{cx:sx(x),cy:sy(0),r:5,fill:'#000'});
    
    
  });

  const fitAt=function(x){return p.fit[0]+(x-fitX[0])*(p.fit[1]-p.fit[0])/(fitX[1]-fitX[0]);};
  const upper=ciX.map(function(x,i){return sx(x)+','+sy(fitAt(x)+p.ci[i]);});
  const lower=ciX.map(function(x,i){return sx(x)+','+sy(fitAt(x)-p.ci[i]);}).reverse();
  const band=make('polygon',g,{points:upper.concat(lower).join(' '),fill:'#999','fill-opacity':.42});
  
  
  const line=make('line',g,{x1:sx(fitX[0]),y1:sy(p.fit[0]),x2:sx(fitX[1]),y2:sy(p.fit[1]),stroke:'#3366ff','stroke-width':4});
  
  

  const border=make('rect',g,{x:left,y:top,width:right-left,height:bottom-top,fill:'none',stroke:'#8c8c8c','stroke-width':2.2});
  
  

  const note=make('text',g,{x:p.noteAt[0],y:p.noteAt[1],'font-size':18,fill:'#444'});
  
  
  note.textContent=p.note;
  if(p.sup){
    const sup=make('tspan',note,{dy:-6,'font-size':12});
    
    
    sup.textContent=p.sup;
  }

  const xTitle=make('text',g,{x:p.xTitleAt[0],y:p.xTitleAt[1],'font-size':28,'text-anchor':'middle',fill:'#333'});
  
  
  xTitle.textContent='NOX2';
  const yTitle=make('text',g,{x:p.yTitleAt[0],y:p.yTitleAt[1],'font-size':28.5,'text-anchor':'middle',fill:'#333',transform:'rotate(-90 '+p.yTitleAt[0]+' '+p.yTitleAt[1]+')'});
  
  
  yTitle.textContent=p.title;
});
</script>
</body>
</html>
